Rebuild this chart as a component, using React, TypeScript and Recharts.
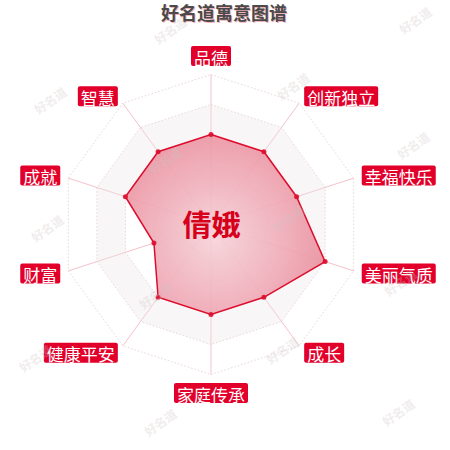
import React from 'react';
import { RadarChart, Radar, PolarGrid, PolarAngleAxis, PolarRadiusAxis } from 'recharts';

const CATEGORIES = ['品德', '创新独立', '幸福快乐', '美丽气质', '成长', '家庭传承', '健康平安', '财富', '成就', '智慧'];
const VALUES = [60, 60, 60, 80, 60, 60, 60, 40, 60, 60];
const RADIUS_DOMAIN = [0, 100];
const SHADED_BANDS = [[20, 40], [60, 80]];
const TITLE = '好名道寓意图谱';
const NAME = '倩娥';
const WATERMARK = '好名道';
const WATERMARK_SPOTS = [
  [50, 100], [47, 228], [35, 358],
  [170, 30], [165, 160], [155, 295], [160, 422],
  [293, 86], [288, 218], [282, 350],
  [415, 20], [413, 145], [400, 282], [398, 412],
];

const W = 450;
const H = 450;
const CX = 211;
const CY = 224.5;
const R = 150;
const LABEL_R = 158.5;
const RED = '#e2002b';
const LINE = '#dd0d2e';
const FONT = "'Noto Sans CJK SC', 'Noto Sans', sans-serif";
const LABEL_FS = 17;

const data = CATEGORIES.map((name, i) => ({ name, value: VALUES[i] }));

function AxisLabel(props: any) {
  const { x, y, payload } = props;
  const dx = x - CX;
  const dy = y - CY;
  const len = Math.hypot(dx, dy) || 1;
  const ux = dx / len;
  const uy = dy / len;
  const ax = CX + ux * LABEL_R;
  const ay = CY + uy * LABEL_R;
  const text = String(payload.value);
  const w = text.length * LABEL_FS + 6;
  const h = 20;
  let left: number;
  let top: number;
  if (Math.abs(ux) < 0.1) {
    left = ax - w / 2;
    top = uy < 0 ? ay - h : ay;
  } else {
    left = ux > 0 ? ax : ax - w;
    top = ay - h / 2;
  }
  return (
    <g>
      <rect x={left} y={top} width={w} height={h} rx={2} fill={RED} />
      <text
        x={left + w / 2}
        y={top + h / 2 + 1}
        textAnchor="middle"
        dominantBaseline="central"
        fill="#ffffff"
        fontSize={LABEL_FS}
        fontFamily={FONT}
      >
        {text}
      </text>
    </g>
  );
}

export default function App() {
  return (
    <div style={{ position: 'absolute', left: 0, top: 0, width: W, height: H, background: '#fff' }}>
      <RadarChart
        width={W}
        height={H}
        data={data}
        cx={CX}
        cy={CY}
        outerRadius={R}
        margin={{ top: 0, right: 0, bottom: 0, left: 0 }}
      >
        <defs>
          <radialGradient id="areaGrad" gradientUnits="userSpaceOnUse" cx={CX + 5} cy={CY + 15} r={R}>
            <stop offset="0%" stopColor="#f6d2d8" />
            <stop offset="45%" stopColor="#efaab6" />
            <stop offset="75%" stopColor="#e98f9d" />
            <stop offset="100%" stopColor="#e5808e" />
          </radialGradient>
        </defs>
        <PolarRadiusAxis domain={RADIUS_DOMAIN} tickCount={6} tick={false} axisLine={false} />
        <PolarGrid gridType="polygon" radialLines={false} stroke="#e8d6d8" strokeDasharray="1.5 2" />
        <PolarGrid gridType="polygon" polarRadius={[]} radialLines={true} stroke="#f4c2ca" />
        {SHADED_BANDS.map((band, i) => (
          <Radar
            key={'band' + i}
            dataKey={() => band}
            stroke="none"
            fill="#ece4e5"
            fillOpacity={0.35}
            dot={false}
            isAnimationActive={false}
          />
        ))}
        <PolarAngleAxis dataKey="name" tick={AxisLabel} tickLine={false} axisLine={false} />
        <Radar
          dataKey="value"
          stroke={LINE}
          strokeWidth={1.5}
          fill="url(#areaGrad)"
          fillOpacity={0.9}
          dot={{ r: 2.5, fill: LINE, stroke: LINE, strokeWidth: 0 }}
          isAnimationActive={false}
        />
      </RadarChart>
      <svg
        width={W}
        height={H}
        style={{ position: 'absolute', left: 0, top: 0, pointerEvents: 'none' }}
      >
        <text x={225} y={13} textAnchor="middle" dominantBaseline="central" fontSize={18} fontWeight="bold" fontFamily={FONT} fill="#f2b3bd">
          {TITLE}
        </text>
        <text x={224} y={12} textAnchor="middle" dominantBaseline="central" fontSize={18} fontWeight="bold" fontFamily={FONT} fill="#4a4a4a">
          {TITLE}
        </text>
        <text x={CX + 0.5} y={CY - 2} textAnchor="middle" dominantBaseline="central" fontSize={29} fontWeight="bold" fontFamily={FONT} fill="#d6001c">
          {NAME}
        </text>
        {WATERMARK_SPOTS.map(([x, y], i) => (
          <text
            key={'wm' + i}
            x={x}
            y={y}
            textAnchor="middle"
            dominantBaseline="central"
            fontSize={12}
            fontWeight="bold"
            fontFamily={FONT}
            fill="#cfc6c6"
            opacity={0.3}
            transform={`rotate(-35 ${x} ${y})`}
          >
            {WATERMARK}
          </text>
        ))}
      </svg>
    </div>
  );
}
